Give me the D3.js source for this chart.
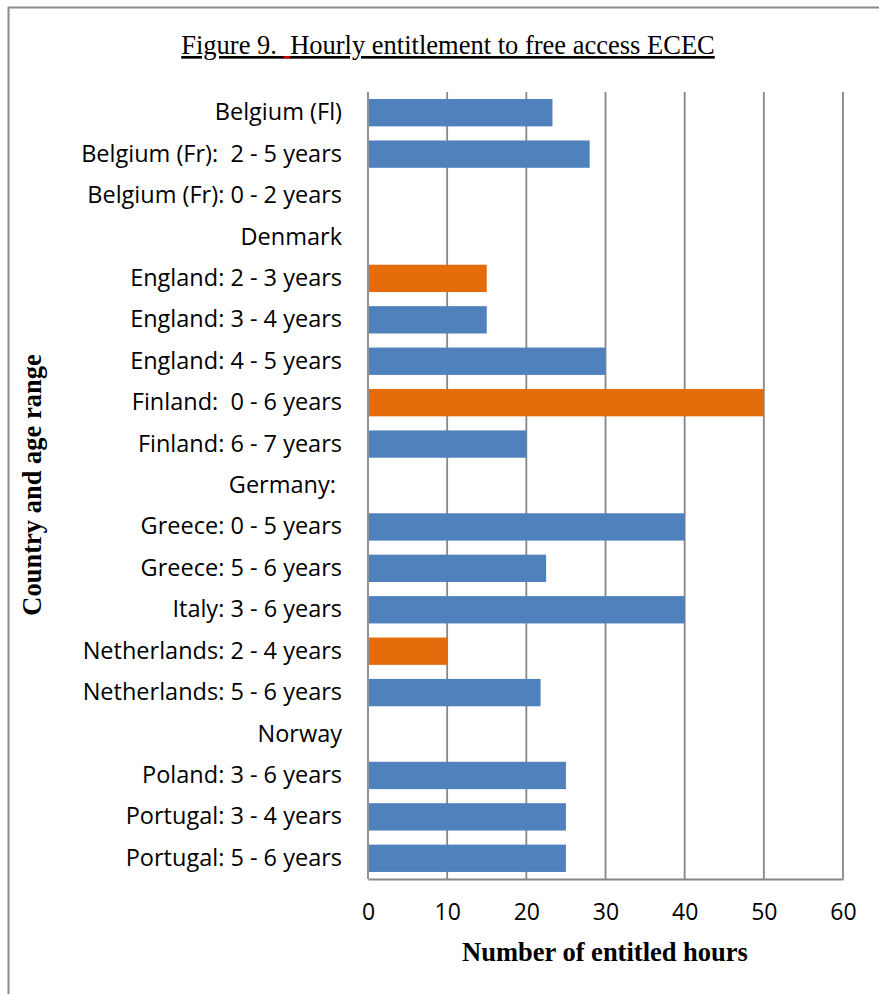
<!DOCTYPE html>
<html>
<head>
<meta charset="utf-8">
<script src="https://cdn.jsdelivr.net/npm/d3@7"></script>
<style>
  html, body { margin: 0; padding: 0; background: #fff; }
  svg { display: block; }
  text { white-space: pre; }
</style>
</head>
<body>
<svg id="chart" width="879" height="994"></svg>
<script>
// Country / age-range categories, top to bottom
const categories = [
  "Belgium (Fl)",
  "Belgium (Fr):  2 - 5 years",
  "Belgium (Fr): 0 - 2 years",
  "Denmark",
  "England: 2 - 3 years",
  "England: 3 - 4 years",
  "England: 4 - 5 years",
  "Finland:  0 - 6 years",
  "Finland: 6 - 7 years",
  "Germany: ",
  "Greece: 0 - 5 years",
  "Greece: 5 - 6 years",
  "Italy: 3 - 6 years",
  "Netherlands: 2 - 4 years",
  "Netherlands: 5 - 6 years",
  "Norway",
  "Poland: 3 - 6 years",
  "Portugal: 3 - 4 years",
  "Portugal: 5 - 6 years"
];
// Entitled hours per week (null = no bar)
const hours = [23.3, 28, null, null, 15, 15, 30, 50, 20, null, 40, 22.5, 40, 10, 21.8, null, 25, 25, 25];
// Highlighted entries are drawn in orange
const highlighted = [false, false, false, false, true, false, false, true, false, false, false, false, false, true, false, false, false, false, false];
const xTicks = [0, 10, 20, 30, 40, 50, 60];

const svg = d3.select("#chart");
const blue = "#4F81BD", orange = "#E46C0A", grid = "#868686";
const serif = "'Liberation Serif', 'Times New Roman', serif";
const sans = "'Open Sans', 'Noto Sans', sans-serif";

// outer frame
svg.append("rect")
  .attr("x", 8.5).attr("y", 7.5)
  .attr("width", 900).attr("height", 1000)
  .attr("fill", "none").attr("stroke", "#8a8a8a").attr("stroke-width", 2);

const plot = { left: 368, right: 843, top: 92, bottom: 879 };

const x = d3.scaleLinear().domain([0, 60]).range([plot.left, plot.right]);
const y = d3.scaleBand().domain(categories).range([plot.top, plot.bottom]).paddingInner(0.34).paddingOuter(0.17);

// title (underlined)
const titleY = 54;
const title = svg.append("text")
  .attr("x", 448).attr("y", titleY)
  .attr("text-anchor", "middle")
  .attr("font-family", serif)
  .attr("font-size", 26.5)
  .attr("fill", "#000")
  .attr("text-decoration", "underline")
  .text("Figure 9.  Hourly entitlement to free access ECEC");

// small red underline mark beneath the second space
const tn = title.node();
const gapStart = tn.getStartPositionOfChar(10).x;
const gapEnd = tn.getEndPositionOfChar(10).x;
svg.append("rect")
  .attr("x", gapStart).attr("y", titleY + 2.2)
  .attr("width", Math.max(3, gapEnd - gapStart)).attr("height", 2)
  .attr("fill", "#e00000");

// vertical gridlines
svg.append("g").selectAll("line").data(xTicks).join("line")
  .attr("x1", d => x(d)).attr("x2", d => x(d))
  .attr("y1", plot.top).attr("y2", plot.bottom)
  .attr("stroke", grid).attr("stroke-width", 1.8);

// bars
svg.append("g").selectAll("rect")
  .data(categories.map((c, i) => ({ c, v: hours[i], h: highlighted[i] })).filter(d => d.v != null))
  .join("rect")
  .attr("x", x(0) + 1)
  .attr("y", d => y(d.c))
  .attr("width", d => x(d.v) - x(0) - 1)
  .attr("height", y.bandwidth())
  .attr("fill", d => d.h ? orange : blue);

// x axis
const xAxis = svg.append("g")
  .attr("transform", `translate(0,${plot.bottom})`)
  .call(d3.axisBottom(x).tickValues(xTicks).tickSize(0).tickPadding(25));
xAxis.select(".domain").attr("stroke", grid).attr("stroke-width", 1.8);
xAxis.selectAll("text")
  .attr("font-family", sans)
  .attr("font-size", 23).attr("fill", "#000");

// y axis labels
const yAxis = svg.append("g")
  .attr("transform", `translate(${plot.left},0)`)
  .call(d3.axisLeft(y).tickSize(0).tickPadding(26));
yAxis.select(".domain").remove();
yAxis.selectAll("text")
  .attr("font-family", sans)
  .attr("font-size", 23.5).attr("fill", "#000");

// axis titles
svg.append("text")
  .attr("x", 605).attr("y", 961)
  .attr("text-anchor", "middle")
  .attr("font-family", serif)
  .attr("font-weight", "bold").attr("font-size", 26.5)
  .text("Number of entitled hours");

svg.append("text")
  .attr("transform", "translate(41,485) rotate(-90)")
  .attr("text-anchor", "middle")
  .attr("font-family", serif)
  .attr("font-weight", "bold").attr("font-size", 26.5)
  .text("Country and age range");
</script>
</body>
</html>
